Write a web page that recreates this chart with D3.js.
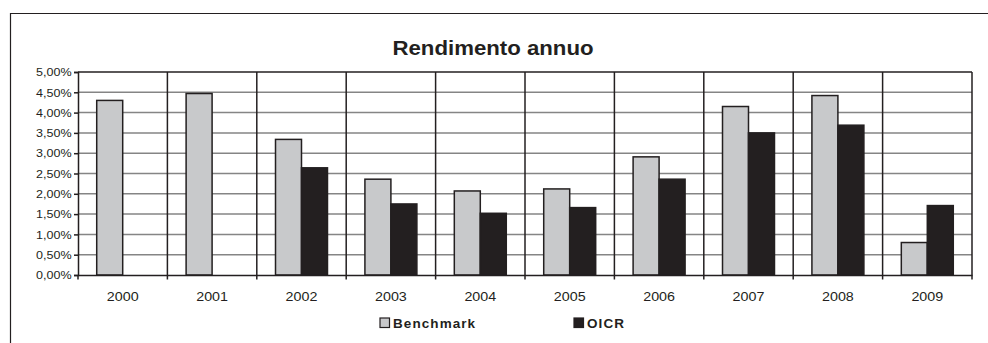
<!DOCTYPE html>
<html>
<head>
<meta charset="utf-8">
<script src="https://cdn.jsdelivr.net/npm/d3@7"></script>
<style>
  html, body { margin: 0; padding: 0; background: #fff; }
  svg { display: block; }
  text { font-family: "Liberation Sans", Arial, sans-serif; fill: #231f20; }
</style>
</head>
<body>
<svg id="chart" width="988" height="343"></svg>
<script>
// Annual returns per year, in fractions (0.043 = 4,30%)
const years = ["2000", "2001", "2002", "2003", "2004", "2005", "2006", "2007", "2008", "2009"];
const benchmark = [0.0430, 0.0447, 0.0334, 0.0236, 0.0207, 0.0212, 0.0291, 0.0415, 0.0442, 0.0080];
const oicr = [null, null, 0.0264, 0.0175, 0.0152, 0.0166, 0.0236, 0.0350, 0.0369, 0.0171];
const seriesNames = ["Benchmark", "OICR"];
const yTicks = [0, 0.005, 0.01, 0.015, 0.02, 0.025, 0.03, 0.035, 0.04, 0.045, 0.05];
const titleText = "Rendimento annuo";

const ink = "#231f20";
const colors = { Benchmark: "#c8c9cb", OICR: "#231f20" };

const svg = d3.select("#chart");
const plot = { left: 78, right: 972, top: 72, bottom: 275 };

// Outer frame (top and left edges)
svg.append("path")
  .attr("d", "M10.5,343 L10.5,13.5 L988,13.5")
  .attr("fill", "none").attr("stroke", ink).attr("stroke-width", 1.2);

const x = d3.scaleBand().domain(years).range([plot.left, plot.right]).padding(0);
const inner = d3.scaleBand().domain(seriesNames).range([0, x.bandwidth()])
  .paddingInner(0).paddingOuter(0.72);
const y = d3.scaleLinear().domain([0, 0.05]).range([plot.bottom, plot.top]);

const it = d3.formatLocale({ decimal: ",", thousands: ".", grouping: [3], currency: ["€", ""] });
const pct = it.format(".2%");

// Horizontal gridlines
svg.append("g").selectAll("line")
  .data(yTicks.filter(d => d > 0 && d < 0.05))
  .join("line")
  .attr("x1", plot.left).attr("x2", plot.right)
  .attr("y1", d => y(d)).attr("y2", d => y(d))
  .attr("stroke", "#858585").attr("stroke-width", 1.5);

// Category separators
const bounds = years.map(d => x(d)).concat([plot.right]);
svg.append("g").selectAll("line")
  .data(bounds.slice(1))
  .join("line")
  .attr("x1", d => d).attr("x2", d => d)
  .attr("y1", plot.top).attr("y2", plot.bottom)
  .attr("stroke", ink).attr("stroke-width", 1.5);

// Plot top border
svg.append("line")
  .attr("x1", plot.left).attr("x2", plot.right)
  .attr("y1", plot.top).attr("y2", plot.top)
  .attr("stroke", ink).attr("stroke-width", 1.5);

// Bars
const rows = years.map((yr, i) => ({ year: yr, Benchmark: benchmark[i], OICR: oicr[i] }));
const groups = svg.append("g").selectAll("g")
  .data(rows).join("g")
  .attr("transform", d => `translate(${x(d.year)},0)`);

groups.selectAll("rect")
  .data(d => seriesNames.filter(s => d[s] != null).map(s => ({ key: s, value: d[s] })))
  .join("rect")
  .attr("x", d => inner(d.key))
  .attr("y", d => y(d.value))
  .attr("width", inner.bandwidth())
  .attr("height", d => y(0) - y(d.value))
  .attr("fill", d => colors[d.key])
  .attr("stroke", ink)
  .attr("stroke-width", 1.5);

// Y axis
const yAxis = svg.append("g")
  .attr("transform", `translate(${plot.left},0)`)
  .call(d3.axisLeft(y).tickValues(yTicks).tickSize(4).tickPadding(6).tickFormat(pct));
yAxis.select(".domain").attr("stroke", ink).attr("stroke-width", 1.5);
yAxis.selectAll(".tick line").attr("stroke", ink).attr("stroke-width", 1.5);
yAxis.selectAll(".tick text")
  .attr("font-size", 11.6)
  .attr("fill", ink)
  .attr("transform", "scale(1.08,1)")
  .attr("x", -6.5 / 1.08)
  .style("font-family", "'Liberation Sans', Arial, sans-serif");

// X axis: labels centred in each band, ticks at band boundaries
const xAxis = svg.append("g")
  .attr("transform", `translate(0,${plot.bottom})`)
  .call(d3.axisBottom(x).tickSize(0).tickPadding(0));
xAxis.select(".domain").attr("stroke", ink).attr("stroke-width", 1.5);
xAxis.selectAll(".tick text").remove();
xAxis.append("g").selectAll("line")
  .data(bounds)
  .join("line")
  .attr("x1", d => d).attr("x2", d => d)
  .attr("y1", 0).attr("y2", 4.5)
  .attr("stroke", ink).attr("stroke-width", 1.5);
xAxis.append("g").selectAll("text")
  .data(years)
  .join("text")
  .attr("transform", d => `translate(${x(d) + x.bandwidth() / 2},26) scale(1.1,1)`)
  .attr("text-anchor", "middle")
  .attr("font-size", 13)
  .text(d => d);

// Title
svg.append("text")
  .attr("transform", "translate(493,55) scale(1.14,1)")
  .attr("text-anchor", "middle")
  .attr("font-size", 19.5)
  .attr("font-weight", "bold")
  .text(titleText);

// Legend
const legendX = { Benchmark: 380, OICR: 574 };
const legend = svg.append("g").selectAll("g")
  .data(seriesNames).join("g")
  .attr("transform", d => `translate(${legendX[d]},318)`);
legend.append("rect")
  .attr("width", 9.5).attr("height", 9.5)
  .attr("fill", d => colors[d])
  .attr("stroke", ink).attr("stroke-width", 1.2);
legend.append("text")
  .attr("transform", "translate(13,9.8) scale(1.08,1)")
  .attr("font-size", 12.5)
  .attr("font-weight", "bold")
  .attr("letter-spacing", 1)
  .text(d => d);
</script>
</body>
</html>
